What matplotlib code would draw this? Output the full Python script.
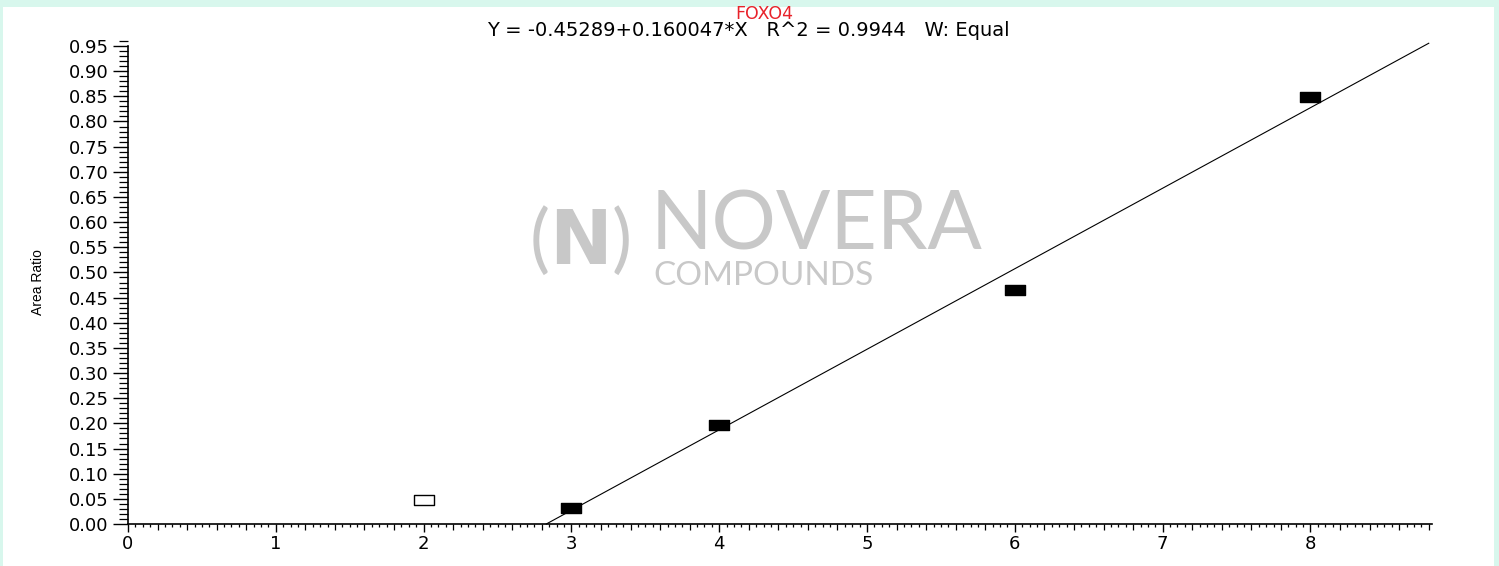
import numpy as np
import matplotlib
matplotlib.use("Agg")
import matplotlib.pyplot as plt
from matplotlib.path import Path
from matplotlib.patches import Rectangle
from matplotlib.ticker import MultipleLocator, FixedLocator, NullFormatter

# calibration data
conc = [2, 3, 4, 6, 8]
area_ratio = [0.048, 0.031, 0.197, 0.466, 0.848]
excluded = [True, False, False, False, False]
intercept = -0.45289
slope = 0.160047
compound = "FOXO4"
equation = "Y = -0.45289+0.160047*X   R^2 = 0.9944   W: Equal"

W, H = 1499, 566
fig = plt.figure(figsize=(W / 100, H / 100), dpi=100, facecolor="#d8f7ed")
fig.patches.append(Rectangle((3 / W, 0), (1494 - 3) / W, (H - 7) / H,
                             transform=fig.transFigure, facecolor="white",
                             edgecolor="none", zorder=-10))

ax = fig.add_axes([128 / W, (H - 524) / H, (1431.7 - 128) / W, (524 - 41) / H])
ax.set_facecolor("none")
ax.set_xlim(0, 8.82)
ax.set_ylim(0, 0.96)

for s in ["top", "right"]:
    ax.spines[s].set_visible(False)
ax.spines["left"].set_bounds(0, 0.95)
for s in ["left", "bottom"]:
    ax.spines[s].set_linewidth(1.2)

# rectangular markers, wider than tall
rect = Path([(-1, -0.48), (1, -0.48), (1, 0.48), (-1, 0.48), (-1, -0.48)],
            [Path.MOVETO, Path.LINETO, Path.LINETO, Path.LINETO, Path.CLOSEPOLY])

# fit line
xs = np.array([-intercept / slope, 8.8])
ax.plot(xs, intercept + slope * xs, color="black", lw=0.8, clip_on=False, zorder=2)

for x, y, ex in zip(conc, area_ratio, excluded):
    ax.plot(x, y, marker=rect, ms=15, ls="none", zorder=3,
            mfc="white" if ex else "black", mec="black", mew=1.0)

# ticks
ax.yaxis.set_minor_locator(MultipleLocator(0.01))
yt = np.round(np.arange(0, 0.951, 0.05), 2)
ax.set_yticks(yt)
ax.set_yticklabels([f"{v:.2f}" for v in yt])
ax.tick_params(axis="y", which="major", length=10.8, width=1.0, pad=3)
ax.tick_params(axis="y", which="minor", length=6.5, width=0.9)

ax.xaxis.set_major_locator(MultipleLocator(1))
ax.xaxis.set_minor_locator(FixedLocator([v for v in np.arange(0, 8.81, 0.05)
                                         if abs(v * 5 - round(v * 5)) > 1e-6]))
ax.tick_params(axis="x", which="major", length=6, width=1.0, pad=2)
ax.tick_params(axis="x", which="minor", length=2, width=0.9)

sec = ax.secondary_xaxis("bottom")
sec.spines["bottom"].set_visible(False)
sec.set_xticks([v for v in np.arange(0, 8.81, 0.2) if abs(v - round(v)) > 1e-6])
sec.xaxis.set_major_formatter(NullFormatter())
sec.tick_params(axis="x", length=4.3, width=0.9)

for lab in ax.get_xticklabels() + ax.get_yticklabels():
    lab.set_fontfamily("DejaVu Sans")
    lab.set_fontsize(13)

ax.set_ylabel("Area Ratio", fontsize=10, family="Liberation Sans", labelpad=17)

fig.text(764 / W, 1 - 14 / H, compound, color="#e8222a", fontsize=12.5,
         family="DejaVu Sans", ha="center", va="center")
fig.text(748 / W, 1 - 30 / H, equation, color="black", fontsize=14,
         family="DejaVu Sans", ha="center", va="center")

# watermark
wm = "#c8c8c8"
fig.text(580 / W, 1 - 240 / H, r"($\mathbf{N}$)", color=wm, fontsize=54,
         family="Lato", ha="center", va="center", zorder=-5)
fig.text(651 / W, 1 - 227 / H, "NOVERA", color=wm, fontsize=58, family="Lato",
         ha="left", va="center", zorder=-5)
fig.text(653 / W, 1 - 276 / H, "COMPOUNDS", color=wm, fontsize=24, family="Lato",
         ha="left", va="center", zorder=-5)

fig.savefig("out.png", dpi=100, facecolor=fig.get_facecolor())
